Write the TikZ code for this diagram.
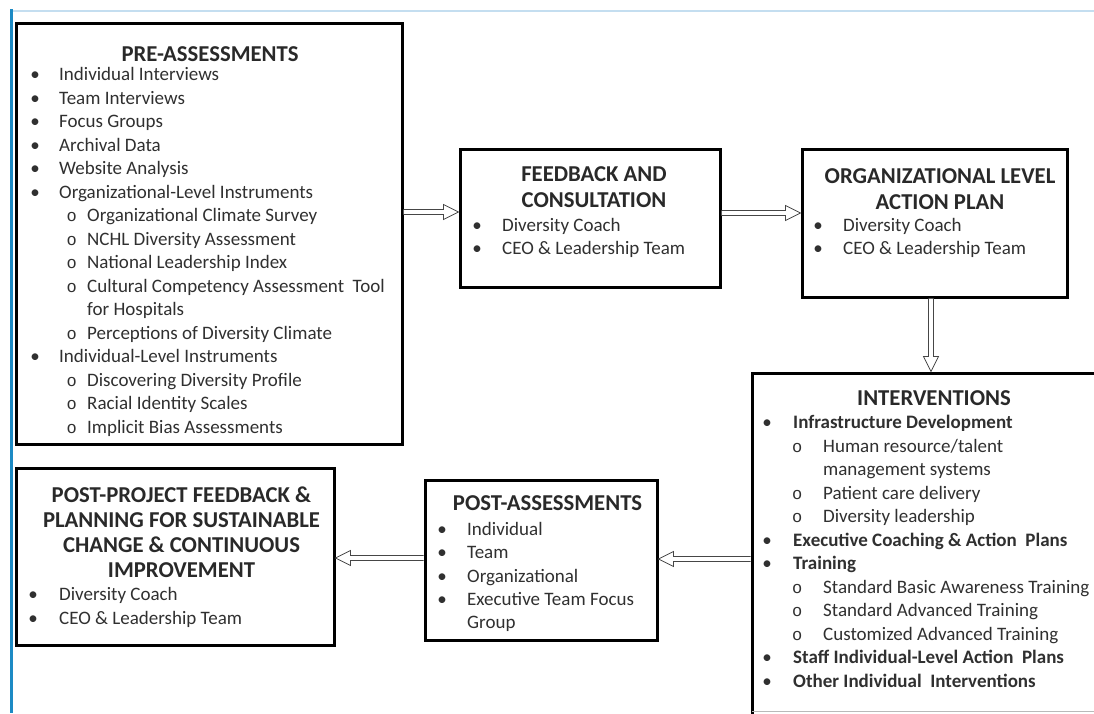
\documentclass[tikz,border=0pt]{standalone}
\usepackage{fontspec}
\setmainfont{Carlito}
\newfontfamily\monofam{Liberation Mono}
\usetikzlibrary{calc}
\definecolor{txtc}{RGB}{48,48,48}
\definecolor{bluebar}{RGB}{28,138,196}
\definecolor{lightbar}{RGB}{196,222,240}
\definecolor{arrc}{RGB}{70,70,70}
\newcommand\bodyfont{\fontsize{19}{23.5}\selectfont}
\newcommand\titlefont{\fontsize{22.7}{26}\selectfont\bfseries}
\newcommand\subo{{\monofam\fontsize{17}{20}\selectfont o}}
\newlength\bgap \newlength\sopos \newlength\stpos
\newcommand\BLt[1]{\makebox[\bgap][l]{\makebox[0pt]{\textbullet}}#1}
\newcommand\SBt[1]{\rlap{\hspace*{\sopos}\makebox[0pt]{\subo}}\hspace*{\stpos}#1}
\newcommand\CNt[1]{\hspace*{\stpos}#1}
\newcommand\arrowR[2]{\path[arr] ($(#1)+(0,2.5)$) -- ($(#2)+(-15,2.5)$) -- ($(#2)+(-15,7.5)$) -- (#2) -- ($(#2)+(-15,-7.5)$) -- ($(#2)+(-15,-2.5)$) -- ($(#1)+(0,-2.5)$);}
\newcommand\arrowL[2]{\path[arr] ($(#1)+(0,2.5)$) -- ($(#2)+(15,2.5)$) -- ($(#2)+(15,7.5)$) -- (#2) -- ($(#2)+(15,-7.5)$) -- ($(#2)+(15,-2.5)$) -- ($(#1)+(0,-2.5)$);}
\newcommand\arrowD[2]{\path[arr] ($(#1)+(2.5,0)$) -- ($(#2)+(2.5,-15)$) -- ($(#2)+(7.5,-15)$) -- (#2) -- ($(#2)+(-7.5,-15)$) -- ($(#2)+(-2.5,-15)$) -- ($(#1)+(-2.5,0)$);}
\begin{document}
\begin{tikzpicture}[x=1pt,y=-1pt,
  box/.style={draw=black, line width=3pt, fill=white, inner sep=0pt},
  txt/.style={inner sep=0pt, anchor=base west, font=\bodyfont, text=txtc},
  ttl/.style={inner sep=0pt, anchor=base, font=\titlefont, text=txtc!85!black},
  arr/.style={draw=arrc, line width=0.8pt, fill=white, line join=miter}]
\useasboundingbox (0,0) rectangle (1094,713);
\clip (0,0) rectangle (1094,713);
\fill[white] (0,0) rectangle (1094,713);
% page edges
\draw[bluebar, line width=3pt] (11.5,9) -- (11.5,713);
\draw[lightbar, line width=2pt] (13,11) -- (1094,11);
% boxes
\node[box, minimum width=386pt, minimum height=421pt] (pre) at (209,233.5) {};
\node[box, minimum width=260pt, minimum height=138pt] (fb) at (590,218) {};
\node[box, minimum width=265pt, minimum height=148pt] (org) at (934.5,223) {};
\node[box, minimum width=363pt, minimum height=367pt] (int) at (933.5,556.5) {};
\node[box, minimum width=232pt, minimum height=160pt] (pa) at (541,560) {};
\node[box, minimum width=318pt, minimum height=177pt] (pp) at (175,556.5) {};
\draw[gray!55, line width=1pt] (752,711.5) -- (1094,711.5);
% arrows
\coordinate (ya) at (0,212);
\coordinate (yb) at (0,213);
\coordinate (xc) at (931,0);
\coordinate (yd) at (0,559);
\coordinate (ye) at (0,558);
\coordinate (a1s) at (pre.east |- ya); \coordinate (a1t) at (fb.west |- ya);
\coordinate (a2s) at (fb.east |- yb); \coordinate (a2t) at (org.west |- yb);
\coordinate (a3s) at (org.south -| xc); \coordinate (a3t) at (int.north -| xc);
\coordinate (a4s) at (int.west |- yd); \coordinate (a4t) at (pa.east |- yd);
\coordinate (a5s) at (pa.west |- ye); \coordinate (a5t) at (pp.east |- ye);
\arrowR{a1s}{a1t}
\arrowR{a2s}{a2t}
\arrowD{a3s}{a3t}
\arrowL{a4s}{a4t}
\arrowL{a5s}{a5t}
% PRE-ASSESSMENTS
\node[ttl] (preT) at (210,61) {PRE-ASSESSMENTS};
\setlength\bgap{24pt}\setlength\sopos{36.5pt}\setlength\stpos{52pt}
\foreach [count=\i] \t in {\BLt{Individual Interviews},\BLt{Team Interviews},\BLt{Focus Groups},\BLt{Archival Data},\BLt{Website Analysis},\BLt{Organizational-Level Instruments},\SBt{Organizational Climate Survey},\SBt{NCHL Diversity Assessment},\SBt{National Leadership Index},\SBt{Cultural Competency Assessment\ \ Tool},\CNt{for Hospitals},\SBt{Perceptions of Diversity Climate},\BLt{Individual-Level Instruments},\SBt{Discovering Diversity Profile},\SBt{Racial Identity Scales},\SBt{Implicit Bias Assessments}}
  \node[txt] (pre\i) at (35,57+23.5*\i) {\t};
% FEEDBACK
\node[ttl] (fbT1) at (594,181) {FEEDBACK AND};
\node[ttl] (fbT2) at (594,207) {CONSULTATION};
\setlength\bgap{25pt}
\foreach [count=\i] \t in {\BLt{Diversity Coach},\BLt{CEO \& Leadership Team}}
  \node[txt] (fb\i) at (477,209+22.5*\i) {\t};
% ORG
\node[ttl] (orgT1) at (940,183) {ORGANIZATIONAL LEVEL};
\node[ttl] (orgT2) at (940,209) {ACTION PLAN};
\foreach [count=\i] \t in {\BLt{Diversity Coach},\BLt{CEO \& Leadership Team}}
  \node[txt] (org\i) at (818,209+22.5*\i) {\t};
% INTERVENTIONS
\node[ttl] (intT) at (934,405) {INTERVENTIONS};
\setlength\bgap{26pt}\setlength\sopos{30pt}\setlength\stpos{56pt}
\foreach [count=\i] \t in {\BLt{\textbf{Infrastructure Development}},\SBt{Human resource/talent},\CNt{management systems},\SBt{Patient care delivery},\SBt{Diversity leadership},\BLt{\textbf{Executive Coaching \& Action\ \ Plans}},\BLt{\textbf{Training}},\SBt{Standard Basic Awareness Training},\SBt{Standard Advanced Training},\SBt{Customized Advanced Training},\BLt{\textbf{Staff Individual-Level Action\ \ Plans}},\BLt{\textbf{Other Individual\ \ Interventions}}}
  \node[txt] (int\i) at (767,405+23.5*\i) {\t};
% POST-ASSESSMENTS
\node[ttl] (paT) at (547.5,510) {POST-ASSESSMENTS};
\setlength\bgap{25pt}\setlength\stpos{25pt}
\foreach [count=\i] \t in {\BLt{Individual},\BLt{Team},\BLt{Organizational},\BLt{Executive Team Focus},\CNt{Group}}
  \node[txt] (pa\i) at (442,512.2+23.3*\i) {\t};
% POST-PROJECT
\foreach [count=\i] \t in {POST-PROJECT FEEDBACK \&,PLANNING FOR SUSTAINABLE,CHANGE \& CONTINUOUS,IMPROVEMENT}
  \node[ttl] (ppT\i) at (181.5,477+25*\i) {\t};
\setlength\bgap{26pt}
\foreach [count=\i] \t in {\BLt{Diversity Coach},\BLt{CEO \& Leadership Team}}
  \node[txt] (pp\i) at (33,576.5+24*\i) {\t};
\end{tikzpicture}
\end{document}
